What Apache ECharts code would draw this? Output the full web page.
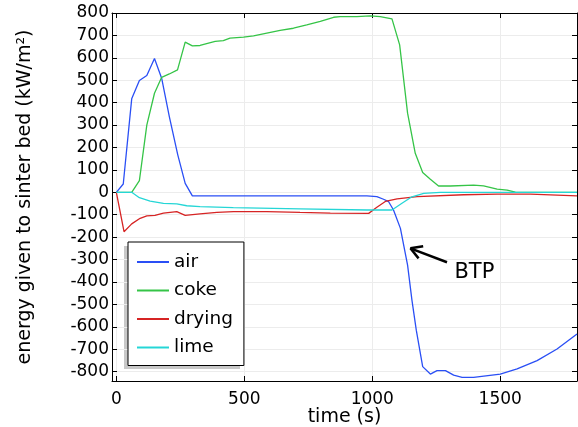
<!DOCTYPE html>
<html>
<head>
<meta charset="utf-8">
<script src="https://cdn.jsdelivr.net/npm/echarts@6/dist/echarts.min.js"></script>
<style>
  html, body { margin: 0; padding: 0; background: #fff; }
  #chart { width: 578px; height: 427px; }
</style>
</head>
<body>
<div id="chart"></div>
<script>
// time (s) and energy (kW/m2)
var airT = [0, 27, 60, 90, 119, 149, 177, 207, 240, 269, 297, 979, 1018, 1044, 1064, 1083, 1110, 1138, 1155, 1172, 1197, 1227, 1253, 1286, 1318, 1351, 1396, 1500, 1566, 1644, 1722, 1800];
var airE = [0, 37, 417, 499, 521, 597, 509, 338, 167, 40, -16, -16, -19, -31, -42, -79, -161, -325, -481, -615, -778, -811, -796, -796, -816, -826, -826, -811, -788, -751, -699, -632];

var cokeT = [0, 60, 90, 119, 149, 177, 207, 239, 269, 297, 327, 386, 418, 444, 497, 536, 588, 640, 692, 744, 797, 849, 875, 940, 992, 1031, 1077, 1107, 1138, 1168, 1197, 1227, 1259, 1305, 1396, 1435, 1488, 1527, 1559, 1800];
var cokeE = [0, 0, 52, 300, 442, 513, 528, 546, 670, 653, 655, 673, 677, 688, 692, 698, 710, 722, 732, 747, 763, 781, 784, 784, 787, 784, 774, 658, 353, 174, 88, 58, 28, 28, 32, 29, 14, 10, 1, 0];

var dryT = [0, 30, 60, 93, 119, 151, 184, 236, 269, 327, 393, 458, 588, 718, 836, 986, 1018, 1051, 1097, 1175, 1357, 1488, 1618, 1800];
var dryE = [0, -176, -141, -116, -105, -103, -93, -86, -103, -96, -90, -86, -86, -90, -93, -94, -67, -41, -29, -19, -11, -8, -8, -16];

var limeT = [0, 60, 90, 132, 184, 236, 275, 327, 457, 718, 979, 1077, 1116, 1155, 1201, 1266, 1800];
var limeE = [0, 0, -24, -39, -49, -52, -60, -64, -68, -74, -79, -79, -49, -20, -5, 0, 0];

var xTicks = [0, 500, 1000, 1500];
var yTicks = [-800, -700, -600, -500, -400, -300, -200, -100, 0, 100, 200, 300, 400, 500, 600, 700, 800];

// BTP arrow (data coords)
var btpTip = [1149, -250];
var btpTail = [1292, -312];
var btpArmA = [1199, -241];
var btpArmB = [1181, -295];
var btpText = [1321, -358];

function zip(a, b) {
    var out = [];
    for (var i = 0; i < a.length; i++) out.push([a[i], b[i]]);
    return out;
}

var font = 'DejaVu Sans';
var chart = echarts.init(document.getElementById('chart'));

function plain(v) { return String(v); }

function xAxisDef(pos, labels) {
    return {
        type: 'value', position: pos, min: -17, max: 1800,
        axisLine: { show: true, onZero: false, lineStyle: { color: '#000', width: 1 } },
        axisTick: { show: true, inside: true, length: 5, customValues: xTicks, lineStyle: { color: '#000' } },
        axisLabel: { show: labels, customValues: xTicks, formatter: plain, color: '#000', fontSize: 17, fontFamily: font, margin: 10 },
        splitLine: { show: labels, lineStyle: { color: '#ececec', width: 1 } }
    };
}
function yAxisDef(pos, labels) {
    return {
        type: 'value', position: pos, min: -842, max: 800,
        axisLine: { show: true, onZero: false, lineStyle: { color: '#000', width: 1 } },
        axisTick: { show: true, inside: true, length: 5, customValues: yTicks, lineStyle: { color: '#000' } },
        axisLabel: { show: labels, customValues: yTicks, formatter: plain, color: '#000', fontSize: 17, fontFamily: font, margin: 3 },
        splitLine: { show: labels, lineStyle: { color: '#ececec', width: 1 } }
    };
}

var xb = xAxisDef('bottom', true);
xb.name = 'time (s)';
xb.nameLocation = 'middle';
xb.nameGap = 27;
xb.nameMoveOverlap = false;
xb.nameTextStyle = { color: '#000', fontSize: 19, fontFamily: font };
var yl = yAxisDef('left', true);
yl.name = 'energy given to sinter bed (kW/m²)';
yl.nameLocation = 'middle';
yl.nameGap = 77;
yl.nameMoveOverlap = false;
yl.nameTextStyle = { color: '#000', fontSize: 19, fontFamily: font };

var lineW = 1.3;
function series(name, color, data) {
    return {
        name: name, type: 'line', data: data, showSymbol: false, symbol: 'none',
        lineStyle: { color: color, width: lineW }, itemStyle: { color: color },
        animation: false
    };
}

var sAir = series('air', '#2a4ff5', zip(airT, airE));
sAir.markLine = {
    silent: true, symbol: 'none', animation: false,
    label: { show: false },
    lineStyle: { color: '#000', width: 2.5, type: 'solid' },
    data: [
        [{ coord: btpTip }, { coord: btpTail }],
        [{ coord: btpTip }, { coord: btpArmA }],
        [{ coord: btpTip }, { coord: btpArmB }]
    ]
};
sAir.markPoint = {
    silent: true, animation: false,
    data: [{
        coord: btpText, symbol: 'circle', symbolSize: 0,
        label: { show: true, formatter: 'BTP', position: 'right', distance: 0, color: '#000', fontSize: 21, fontFamily: font }
    }]
};

chart.setOption({
    animation: false,
    backgroundColor: '#fff',
    grid: { left: 112, right: 1, top: 13, bottom: 46, containLabel: false, outerBoundsMode: 'none' },
    xAxis: [xb, xAxisDef('top', false)],
    yAxis: [yl, yAxisDef('right', false)],
    // legend drop shadow
    graphic: [{
        type: 'rect', left: 124, top: 246, z: 0, silent: true,
        shape: { width: 116, height: 123 },
        style: { fill: '#c8c8c8' }
    }],
    legend: {
        data: ['air', 'coke', 'drying', 'lime'],
        orient: 'vertical', left: 128, top: 242, z: 5,
        padding: [10, 11, 8, 9],
        itemWidth: 32, itemHeight: 2, itemGap: 8.5, itemTextGap: 6,
        icon: 'rect',
        backgroundColor: '#fff', borderColor: '#000', borderWidth: 1, borderRadius: 0,
        textStyle: { color: '#000', fontSize: 18.5, fontFamily: font, lineHeight: 20 }
    },
    series: [
        sAir,
        series('coke', '#35c447', zip(cokeT, cokeE)),
        series('drying', '#d62424', zip(dryT, dryE)),
        series('lime', '#25d6d6', zip(limeT, limeE))
    ]
});
</script>
</body>
</html>
